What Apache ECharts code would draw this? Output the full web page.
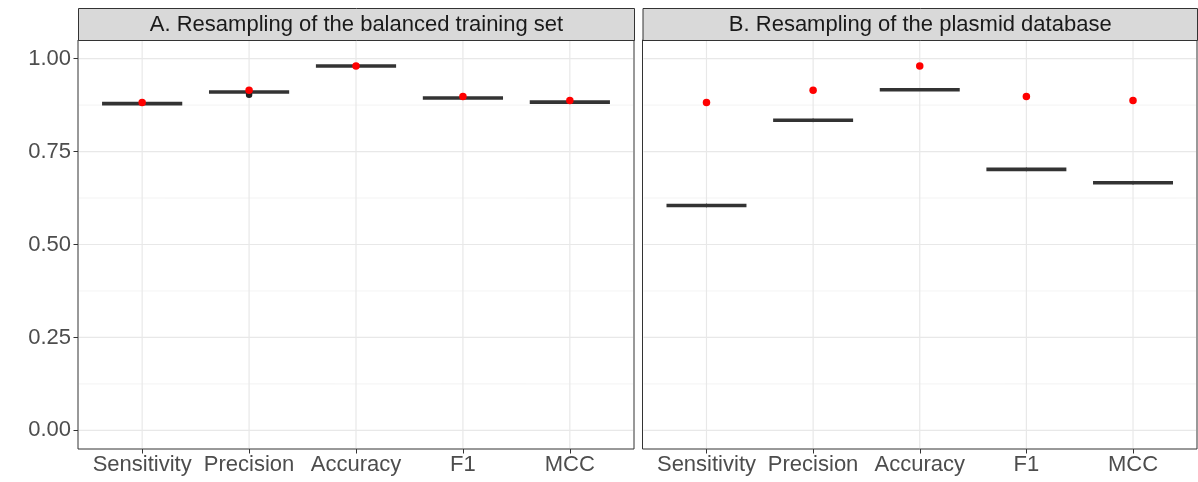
<!DOCTYPE html>
<html>
<head>
<meta charset="utf-8">
<script src="https://cdn.jsdelivr.net/npm/echarts@6/dist/echarts.min.js"></script>
<style>
html,body{margin:0;padding:0;background:#fff;}
#main{width:1198px;height:482px;}
</style>
</head>
<body>
<div id="main"></div>
<script>
// ---- data ----
const categories = ['Sensitivity', 'Precision', 'Accuracy', 'F1', 'MCC'];
const panelTitles = ['A. Resampling of the balanced training set', 'B. Resampling of the plasmid database'];
const yTicks = [0, 0.25, 0.5, 0.75, 1.0];
const yMinorTicks = [0.125, 0.375, 0.625, 0.875];
// panel A (balanced training set): median, whisker low, whisker high
const medianA = [0.879, 0.910, 0.980, 0.894, 0.883];
const lowA    = [0.878, 0.908, 0.979, 0.893, 0.882];
const highA   = [0.880, 0.912, 0.981, 0.895, 0.884];
const outliersA = [[1, 0.903]];
// panel B (plasmid database)
const medianB = [0.605, 0.834, 0.916, 0.702, 0.666];
const lowB    = [0.600, 0.829, 0.915, 0.697, 0.661];
const highB   = [0.610, 0.839, 0.917, 0.707, 0.671];
const outliersB = [];
// model values (red points), same in both panels
const modelValues = [0.882, 0.915, 0.980, 0.898, 0.887];

// ---- styles / layout ----
const FONT = 'Liberation Sans, Arial, sans-serif';
const panels = [
  { left: 78, width: 556 },
  { left: 642.5, width: 554.5 }
];
const TOP = 40, HEIGHT = 409;

const chart = echarts.init(document.getElementById('main'), null, { renderer: 'canvas' });

const grids = [], xAxes = [], yAxes = [], series = [], graphics = [];
const catIdx = categories.map((c, i) => i);

panels.forEach((p, gi) => {
  grids.push({
    left: p.left, top: TOP, width: p.width, height: HEIGHT,
    show: true, backgroundColor: '#ffffff', borderColor: '#333333', borderWidth: 1,
    containLabel: false
  });
  xAxes.push({
    type: 'value', gridIndex: gi, min: -0.6, max: 4.6, position: 'bottom',
    axisLine: { show: false, onZero: false },
    splitLine: { show: false },
    axisTick: { show: true, customValues: catIdx, length: 4.5, inside: false, lineStyle: { color: '#333333', width: 1 } },
    axisLabel: {
      show: true, customValues: catIdx, margin: 5,
      formatter: v => categories[Math.round(v)],
      color: '#4d4d4d', fontSize: 22, fontFamily: FONT
    }
  });
  yAxes.push({
    type: 'value', gridIndex: gi, min: -0.05, max: 1.05, position: 'left',
    axisLine: { show: false, onZero: false },
    splitLine: { show: false },
    axisTick: { show: gi === 0, customValues: yTicks, length: 4.5, lineStyle: { color: '#333333', width: 1 } },
    axisLabel: {
      show: gi === 0, customValues: yTicks, margin: 7,
      formatter: v => v.toFixed(2),
      color: '#4d4d4d', fontSize: 22, fontFamily: FONT
    }
  });

  // minor horizontal gridlines
  series.push({
    type: 'custom', xAxisIndex: gi, yAxisIndex: gi, z: 1, silent: true, clip: false,
    data: yMinorTicks.map(v => [0, v]),
    renderItem: (params, api) => {
      const cs = params.coordSys;
      const y = api.coord([0, api.value(1)])[1];
      return { type: 'line', shape: { x1: cs.x + 1, y1: y, x2: cs.x + cs.width - 1, y2: y },
        style: { stroke: '#ebebeb', lineWidth: 0.6 } };
    }
  });
  // major horizontal gridlines
  series.push({
    type: 'custom', xAxisIndex: gi, yAxisIndex: gi, z: 1, silent: true, clip: false,
    data: yTicks.map(v => [0, v]),
    renderItem: (params, api) => {
      const cs = params.coordSys;
      const y = api.coord([0, api.value(1)])[1];
      return { type: 'line', shape: { x1: cs.x + 1, y1: y, x2: cs.x + cs.width - 1, y2: y },
        style: { stroke: '#e8e8e8', lineWidth: 1.2 } };
    }
  });
  // vertical gridlines at categories
  series.push({
    type: 'custom', xAxisIndex: gi, yAxisIndex: gi, z: 1, silent: true, clip: false,
    data: catIdx.map(i => [i, 0]),
    renderItem: (params, api) => {
      const cs = params.coordSys;
      const x = api.coord([api.value(0), 0])[0];
      return { type: 'line', shape: { x1: x, y1: cs.y + 1, x2: x, y2: cs.y + cs.height - 1 },
        style: { stroke: '#e8e8e8', lineWidth: 1.2 } };
    }
  });

  const med = gi === 0 ? medianA : medianB;
  const lo = gi === 0 ? lowA : lowB;
  const hi = gi === 0 ? highA : highB;
  // collapsed boxplots
  series.push({
    type: 'custom', xAxisIndex: gi, yAxisIndex: gi, z: 3, silent: true,
    data: catIdx.map(i => [i, med[i], lo[i], hi[i]]),
    renderItem: (params, api) => {
      const xi = api.value(0);
      const pm = api.coord([xi, api.value(1)]);
      const pl = api.coord([xi, api.value(2)]);
      const ph = api.coord([xi, api.value(3)]);
      const half = api.size([0.375, 0])[0];
      return {
        type: 'group',
        children: [
          { type: 'line', shape: { x1: pm[0], y1: pl[1], x2: pm[0], y2: ph[1] },
            style: { stroke: '#333333', lineWidth: 1 } },
          { type: 'line', shape: { x1: pm[0] - half, y1: pm[1], x2: pm[0] + half, y2: pm[1] },
            style: { stroke: '#333333', lineWidth: 3.6, lineCap: 'butt' } }
        ]
      };
    }
  });
  // outliers
  const outs = gi === 0 ? outliersA : outliersB;
  if (outs.length) {
    series.push({
      type: 'scatter', xAxisIndex: gi, yAxisIndex: gi, z: 4, silent: true,
      symbol: 'circle', symbolSize: 6.5,
      itemStyle: { color: '#222222', opacity: 1 },
      data: outs
    });
  }
  // model values (red points)
  series.push({
    type: 'scatter', xAxisIndex: gi, yAxisIndex: gi, z: 5, silent: true,
    symbol: 'circle', symbolSize: 7.5,
    itemStyle: { color: '#ff0000', opacity: 1 },
    data: catIdx.map(i => [i, modelValues[i]])
  });

  // facet strip
  graphics.push({
    type: 'group', left: p.left, top: 8,
    children: [
      { type: 'rect', shape: { x: 0, y: 0, width: p.width, height: 32 },
        style: { fill: '#d9d9d9', stroke: '#333333', lineWidth: 1 } },
      { type: 'text', x: p.width / 2, y: 16,
        style: { text: panelTitles[gi], fill: '#1a1a1a', fontSize: 22, fontFamily: FONT,
                 align: 'center', verticalAlign: 'middle' } }
    ]
  });
});

chart.setOption({
  animation: false,
  backgroundColor: '#ffffff',
  grid: grids,
  xAxis: xAxes,
  yAxis: yAxes,
  series: series,
  graphic: graphics
});
</script>
</body>
</html>
